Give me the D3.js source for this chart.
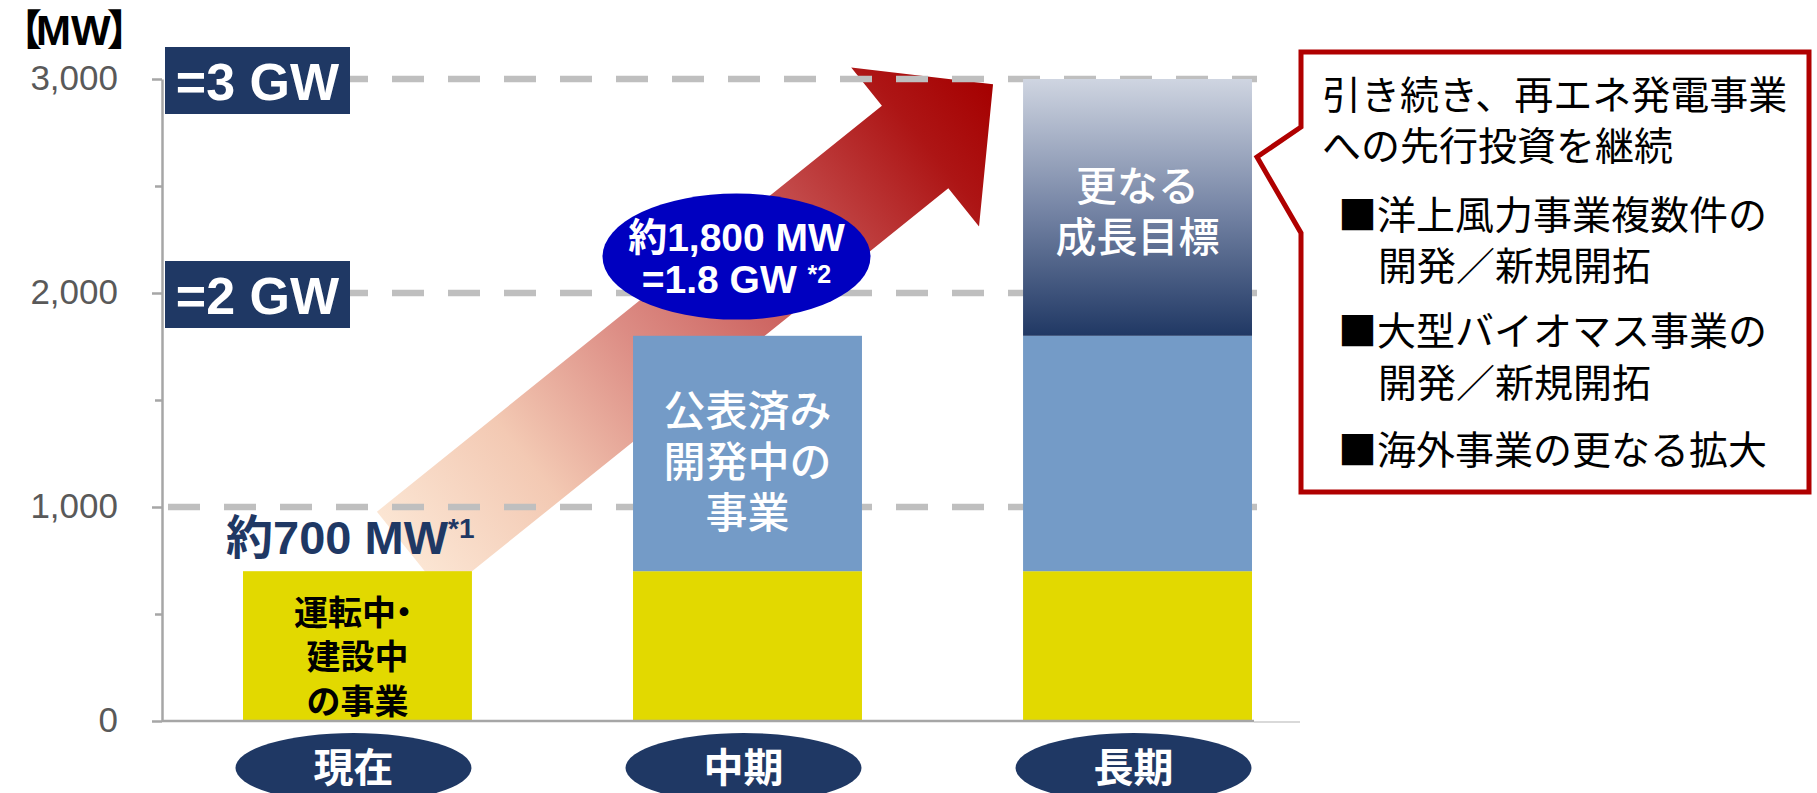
<!DOCTYPE html>
<html>
<head>
<meta charset="utf-8">
<script src="https://cdn.jsdelivr.net/npm/d3@7"></script>
<style>
  body { margin: 0; background: #fff; }
  svg { display: block; }
</style>
</head>
<body>
<div id="chart"></div>
<script>
// data
const categories = ["現在", "中期", "長期"]
const operating = [700, 700, 700]     // 運転中・建設中の事業
const announced = [0, 1100, 1100]     // 公表済み開発中の事業
const growth = [0, 0, 1200]           // 更なる成長目標
const yTicks = [0, 1000, 2000, 3000]
const minorTicks = [500, 1500, 2500]
const gridValues = [1000, 2000, 3000]
const gwValues = [3000, 2000]
const gwLabels = ["=3 GW", "=2 GW"]
const barTexts = [["運転中・", "建設中", "の事業"], ["公表済み", "開発中の", "事業"], ["更なる", "成長目標"]]
const calloutLines = ["引き続き、再エネ発電事業", "への先行投資を継続", "■洋上風力事業複数件の", "開発／新規開拓", "■大型バイオマス事業の", "開発／新規開拓", "■海外事業の更なる拡大"]

const W = 1817, H = 793
const latin = "'Liberation Sans', Arial, 'Noto Sans CJK JP', sans-serif"
const cjk = "'Noto Sans CJK JP', 'Noto Sans CJK SC', sans-serif"
const navy = "#1f3864"

const svg = d3.select("#chart")
  .append("svg")
  .attr("width", W)
  .attr("height", H)

const x = d3.scaleBand()
  .domain(categories)
  .range([243, 1252])
  .paddingInner(0.413)
  .paddingOuter(0)
const bw = x.bandwidth()

const y = d3.scaleLinear()
  .domain([0, 3000])
  .range([721, 79])

const defs = svg.append("defs")

// big arrow from current level up to the 3 GW line
const tail = [x("現在") + bw * 0.73, y(785)]
const tip = [x("長期") - 30, y(2975)]
const L = Math.hypot(tip[0] - tail[0], tip[1] - tail[1])
const ang = Math.atan2(tip[1] - tail[1], tip[0] - tail[0]) * 180 / Math.PI
const shaft = 53, headW = 102, headL = 100

const ag = defs.append("linearGradient")
  .attr("id", "arrowGrad")
  .attr("gradientUnits", "userSpaceOnUse")
  .attr("x1", 0).attr("y1", 0).attr("x2", L).attr("y2", 0)
;[[0, "#fbe5d3"], [0.2, "#f3c9b3"], [0.41, "#dc8c84"], [0.7, "#c24848"], [0.88, "#ad1515"], [1, "#a50000"]]
  .forEach(s => ag.append("stop").attr("offset", s[0]).attr("stop-color", s[1]))

svg.append("g")
  .attr("transform", `translate(${tail[0]},${tail[1]}) rotate(${ang})`)
  .append("polygon")
  .attr("points", [[0, -shaft], [L - headL, -shaft], [L - headL, -headW], [L, 0],
    [L - headL, headW], [L - headL, shaft], [0, shaft]].map(p => p.join(",")).join(" "))
  .attr("fill", "url(#arrowGrad)")

// dashed grid lines
svg.append("g")
  .selectAll("line")
  .data(gridValues)
  .join("line")
  .attr("x1", 168).attr("x2", 1257)
  .attr("y1", d => y(d)).attr("y2", d => y(d))
  .attr("stroke", "#bfbfbf")
  .attr("stroke-width", 6.5)
  .attr("stroke-dasharray", "32,24")

// y axis
const yAxis = svg.append("g")
  .attr("transform", "translate(162,0)")
  .call(d3.axisLeft(y).tickValues(yTicks).tickSize(10).tickSizeOuter(0).tickPadding(34).tickFormat(d3.format(",")))
yAxis.select(".domain").attr("stroke", "#a6a6a6").attr("stroke-width", 2.5)
yAxis.selectAll(".tick line").attr("stroke", "#a6a6a6").attr("stroke-width", 2.5)
yAxis.selectAll(".tick text")
  .attr("fill", "#595959")
  .style("font-family", latin)
  .style("font-size", "35px")
  .attr("dy", "0.3em")

svg.append("g")
  .attr("transform", "translate(162,0)")
  .call(d3.axisLeft(y).tickValues(minorTicks).tickSize(7).tickFormat(""))
  .call(g => g.select(".domain").remove())
  .selectAll(".tick line").attr("stroke", "#a6a6a6").attr("stroke-width", 2.5)

// stacked bars
const rows = categories.map((c, i) => ({cat: c, operating: operating[i], announced: announced[i], growth: growth[i]}))
const stack = d3.stack().keys(["operating", "announced", "growth"])(rows)

const gg = defs.append("linearGradient")
  .attr("id", "growthGrad")
  .attr("x1", 0).attr("y1", 0).attr("x2", 0).attr("y2", 1)
gg.append("stop").attr("offset", 0).attr("stop-color", "#cfd5e1")
gg.append("stop").attr("offset", 0.5).attr("stop-color", "#7786a6")
gg.append("stop").attr("offset", 1).attr("stop-color", "#203864")

const fills = {operating: "#e2d900", announced: "#749bc7", growth: "url(#growthGrad)"}

svg.append("g")
  .selectAll("g")
  .data(stack)
  .join("g")
  .attr("fill", d => fills[d.key])
  .selectAll("rect")
  .data(d => d.filter(p => p[1] > p[0]))
  .join("rect")
  .attr("x", d => x(d.data.cat))
  .attr("y", d => y(d[1]))
  .attr("width", bw)
  .attr("height", d => y(d[0]) - y(d[1]))

// baseline
svg.append("line")
  .attr("x1", 162).attr("x2", 1254)
  .attr("y1", y(0)).attr("y2", y(0))
  .attr("stroke", "#a6a6a6").attr("stroke-width", 2.5)
svg.append("line")
  .attr("x1", 1254).attr("x2", 1300)
  .attr("y1", y(0) + 1).attr("y2", y(0) + 1)
  .attr("stroke", "#d9d9d9").attr("stroke-width", 2)

// texts inside bars
const segMid = [(0 + 700) / 2, (700 + 1800) / 2, (1800 + 3000) / 2]
const textStyle = [
  {size: 34, gap: 44.5, color: "#000", weight: 700, shift: 11},
  {size: 42, gap: 51, color: "#fff", weight: 500, shift: 8},
  {size: 41, gap: 51, color: "#fff", weight: 500, shift: 4}
]
barTexts.forEach((lines, i) => {
  const st = textStyle[i]
  const cx = x(categories[i]) + bw / 2
  const cy = y(segMid[i]) + st.shift
  const t = svg.append("g")
    .selectAll("text")
    .data(lines)
    .join("text")
    .attr("x", cx)
    .attr("y", (d, j) => cy + (j - (lines.length - 1) / 2) * st.gap)
    .attr("dy", "0.36em")
    .attr("text-anchor", "middle")
    .attr("fill", st.color)
    .style("font-family", cjk)
    .style("font-size", st.size + "px")
    .style("font-weight", st.weight)
  // the middle dot sits tight against the previous glyph
  t.each(function(d) {
    const el = d3.select(this)
    if (d.endsWith("・")) {
      el.append("tspan").text(d.slice(0, -1))
      el.append("tspan").attr("dx", -9).text("・")
    } else {
      el.text(d)
    }
  })
})

// category ellipses
const cg = svg.append("g")
  .selectAll("g")
  .data(categories)
  .join("g")
  .attr("transform", d => `translate(${x(d) + bw / 2 - 4},768)`)
cg.append("ellipse")
  .attr("rx", 118).attr("ry", 35)
  .attr("fill", navy)
cg.append("text")
  .attr("text-anchor", "middle")
  .attr("dy", "0.36em")
  .attr("fill", "#fff")
  .style("font-family", cjk)
  .style("font-size", "40px")
  .style("font-weight", 700)
  .text(d => d)

// =3 GW / =2 GW boxes
const gwg = svg.append("g")
  .selectAll("g")
  .data(gwValues)
  .join("g")
  .attr("transform", d => `translate(165,${y(d) + 1.5})`)
gwg.append("rect")
  .attr("y", -33.5).attr("width", 185).attr("height", 67)
  .attr("fill", navy)
gwg.append("text")
  .attr("x", 92.5)
  .attr("y", 19)
  .attr("text-anchor", "middle")
  .attr("fill", "#fff")
  .style("font-family", latin)
  .style("font-size", "52px")
  .style("font-weight", 700)
  .text((d, i) => gwLabels[i])

// 約700 MW label
const t700 = svg.append("text")
  .attr("x", x("現在") - 17)
  .attr("y", y(780))
  .attr("fill", navy)
  .style("font-family", latin)
  .style("font-size", "47px")
  .style("font-weight", 700)
t700.append("tspan").text("約700 MW")
t700.append("tspan").attr("dy", -16).style("font-size", "28px").text("*1")

// 約1,800 MW ellipse
const e18 = svg.append("g")
  .attr("transform", `translate(${x("中期") + bw / 2 - 11},${y(2170)})`)
e18.append("ellipse")
  .attr("rx", 134).attr("ry", 63)
  .attr("fill", "#0000c0")
e18.append("text")
  .attr("y", -6)
  .attr("text-anchor", "middle")
  .attr("fill", "#fff")
  .style("font-family", latin)
  .style("font-size", "39px")
  .style("font-weight", 700)
  .text("約1,800 MW")
const l2 = e18.append("text")
  .attr("y", 36)
  .attr("text-anchor", "middle")
  .attr("fill", "#fff")
  .style("font-family", latin)
  .style("font-size", "39px")
  .style("font-weight", 700)
l2.append("tspan").text("=1.8 GW ")
l2.append("tspan").attr("dy", -10).style("font-size", "25px").text("*2")

// 【MW】 unit
const unit = svg.append("text")
  .attr("x", 0)
  .attr("y", 45)
  .attr("fill", "#000")
  .style("font-family", latin)
  .style("font-size", "42px")
  .style("font-weight", 700)
unit.append("tspan").text("【")
unit.append("tspan").attr("dx", -6).text("MW")
unit.append("tspan").attr("dx", -4).text("】")

// callout box on the right
svg.append("path")
  .attr("d", "M1301,52 H1809 V492 H1301 V233 L1257,157 L1301,127 Z")
  .attr("fill", "#fff")
  .attr("stroke", "#b00000")
  .attr("stroke-width", 5)
  .attr("stroke-linejoin", "miter")

const lineX = [1322, 1322, 1338, 1378, 1338, 1378, 1338]
const lineY = [109, 160, 229, 280, 345, 397, 464]
svg.append("g")
  .selectAll("text")
  .data(calloutLines)
  .join("text")
  .attr("x", (d, i) => lineX[i])
  .attr("y", (d, i) => lineY[i])
  .attr("fill", "#000")
  .style("font-family", cjk)
  .style("font-size", "39px")
  .text(d => d)
</script>
</body>
</html>
